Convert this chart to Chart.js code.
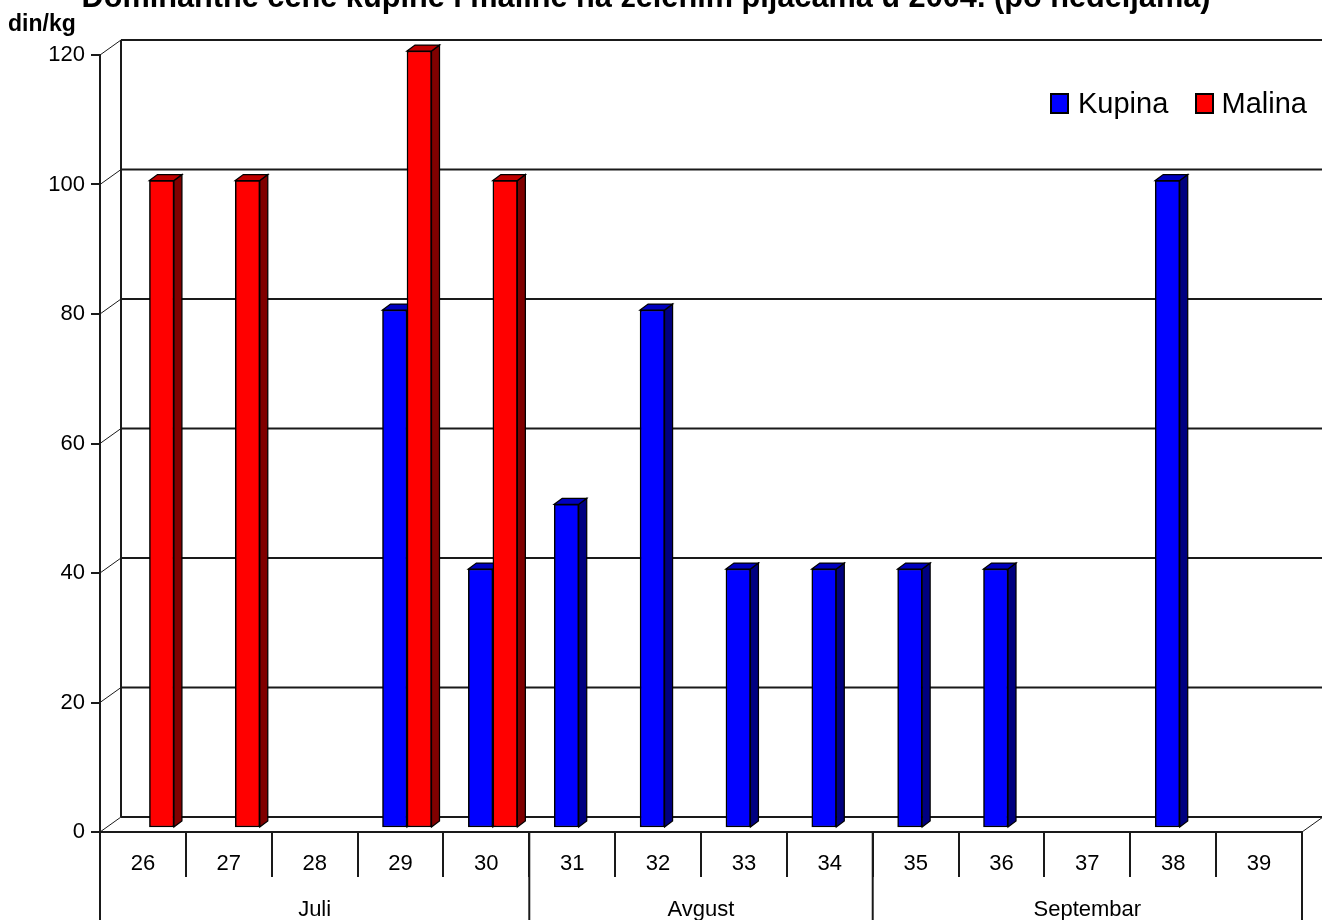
<!DOCTYPE html>
<html>
<head>
<meta charset="utf-8">
<title>Kupina i malina</title>
<script src="https://cdn.jsdelivr.net/npm/chart.js@4/dist/chart.umd.min.js"></script>
<style>
	html, body { margin: 0; padding: 0; background: #fff; overflow: hidden; }
	canvas { display: block; }
</style>
</head>
<body>
<canvas id="chart" width="1322" height="920"></canvas>
<script>
var titleText = 'Dominantne cene kupine i maline na zelenim pijacama u 2004. (po nedeljama)';
var unitText = 'din/kg';
var weeks = ['26', '27', '28', '29', '30', '31', '32', '33', '34', '35', '36', '37', '38', '39'];
var kupina = [null, null, null, 80, 40, 50, 80, 40, 40, 40, 40, null, 100, null];
var malina = [100, 100, null, 120, 100, null, null, null, null, null, null, null, null, null];
var months = ['Juli', 'Avgust', 'Septembar'];
var monthWeeks = [5, 4, 5];

var FONT = '"Liberation Sans", Arial, sans-serif';
var LINE = '#1a1a1a';
// depth of the back wall and of the bars, in px
var WALL_X = 21, WALL_Y = 15;
var BAR_WIDTH = 24.5, BAR_DX = 8, BAR_DY = 6;
// bars sit a bit to the right of and above the front plane
var BAR_SHIFT_Y = 4;
var shiftX = { Kupina: 6.5 - BAR_WIDTH / 2, Malina: 6.5 + BAR_WIDTH / 2 };

var sideColors = { Kupina: '#000080', Malina: '#800000' };
var topColors = { Kupina: '#0000c0', Malina: '#c00000' };

function seg(ctx, x1, y1, x2, y2) {
	ctx.beginPath();
	ctx.moveTo(x1, y1);
	ctx.lineTo(x2, y2);
	ctx.stroke();
}

function poly(ctx, pts, fill) {
	ctx.beginPath();
	ctx.moveTo(pts[0][0], pts[0][1]);
	for (var i = 1; i < pts.length; i++) ctx.lineTo(pts[i][0], pts[i][1]);
	ctx.closePath();
	ctx.fillStyle = fill;
	ctx.fill();
	ctx.stroke();
}

var wallPlugin = {
	id: 'wall',
	beforeDatasetsDraw: function(chart) {
		var ctx = chart.ctx, a = chart.chartArea, y = chart.scales.y;
		ctx.save();
		ctx.strokeStyle = LINE;
		ctx.lineWidth = 2;
		seg(ctx, a.left + WALL_X, a.top - WALL_Y, a.left + WALL_X, a.bottom - WALL_Y);
		y.ticks.forEach(function(t) {
			var py = y.getPixelForValue(t.value);
			seg(ctx, a.left + WALL_X, py - WALL_Y, a.right + WALL_X, py - WALL_Y);
		});
		ctx.lineWidth = 1;
		y.ticks.forEach(function(t) {
			var py = y.getPixelForValue(t.value);
			seg(ctx, a.left, py, a.left + WALL_X, py - WALL_Y);
		});
		seg(ctx, a.right, a.bottom, a.right + WALL_X, a.bottom - WALL_Y);
		ctx.restore();
	}
};

var bar3dPlugin = {
	id: 'bar3d',
	beforeDatasetDraw: function(chart, args) {
		var ctx = chart.ctx, ds = chart.data.datasets[args.index], name = ds.label;
		ctx.save();
		ctx.translate(shiftX[name], -BAR_SHIFT_Y);
		ctx.strokeStyle = '#000';
		ctx.lineWidth = 1.25;
		args.meta.data.forEach(function(bar, i) {
			if (ds.data[i] === null) return;
			var l = bar.x - bar.width / 2, r = bar.x + bar.width / 2;
			poly(ctx, [[r, bar.y], [r + BAR_DX, bar.y - BAR_DY], [r + BAR_DX, bar.base - BAR_DY], [r, bar.base]], sideColors[name]);
			poly(ctx, [[l, bar.y], [l + BAR_DX, bar.y - BAR_DY], [r + BAR_DX, bar.y - BAR_DY], [r, bar.y]], topColors[name]);
		});
	},
	afterDatasetDraw: function(chart) {
		chart.ctx.restore();
	}
};

var labelsPlugin = {
	id: 'labels',
	afterDraw: function(chart) {
		var ctx = chart.ctx, a = chart.chartArea, x = chart.scales.x;
		var step = (a.right - a.left) / weeks.length;
		ctx.save();
		ctx.fillStyle = '#000';
		ctx.textBaseline = 'alphabetic';

		ctx.textAlign = 'center';
		ctx.font = 'bold 30.7px ' + FONT;
		ctx.fillText(titleText, 646, 7);
		ctx.textAlign = 'left';
		ctx.font = 'bold 23px ' + FONT;
		ctx.fillText(unitText, 8, 31);

		// month row below the week labels
		ctx.strokeStyle = LINE;
		ctx.lineWidth = 2;
		ctx.textAlign = 'center';
		ctx.font = '22px ' + FONT;
		seg(ctx, a.left, a.bottom, a.left, 920);
		var start = 0;
		months.forEach(function(m, i) {
			var left = x.getPixelForValue(start) - step / 2;
			var right = x.getPixelForValue(start + monthWeeks[i] - 1) + step / 2;
			seg(ctx, right, a.bottom, right, 920);
			ctx.fillText(m, (left + right) / 2, 916);
			start += monthWeeks[i];
		});

		// legend
		var items = chart.data.datasets;
		var boxX = [1051, 1196], textX = [1078, 1221.5];
		ctx.textAlign = 'left';
		ctx.textBaseline = 'middle';
		ctx.font = '29px ' + FONT;
		items.forEach(function(ds, i) {
			ctx.fillStyle = ds.backgroundColor;
			ctx.strokeStyle = '#000';
			ctx.fillRect(boxX[i], 94, 17, 19);
			ctx.strokeRect(boxX[i], 94, 17, 19);
			ctx.fillStyle = '#000';
			ctx.fillText(ds.label, textX[i], 105);
		});
		ctx.restore();
	}
};

var chart = new Chart(document.getElementById('chart').getContext('2d'), {
	type: 'bar',
	data: {
		labels: weeks,
		datasets: [
			{ label: 'Kupina', data: kupina, backgroundColor: '#0000ff', borderColor: '#000', borderWidth: 1.5, borderSkipped: false, barThickness: BAR_WIDTH, grouped: false, order: 2 },
			{ label: 'Malina', data: malina, backgroundColor: '#ff0000', borderColor: '#000', borderWidth: 1.5, borderSkipped: false, barThickness: BAR_WIDTH, grouped: false, order: 1 }
		]
	},
	options: {
		responsive: false,
		animation: false,
		clip: false,
		layout: { padding: { top: 55, right: 20, left: 0, bottom: 0 } },
		plugins: {
			legend: { display: false },
			title: { display: false },
			tooltip: { enabled: false }
		},
		scales: {
			x: {
				offset: true,
				afterFit: function(s) { s.height = 88; },
				border: { color: LINE, width: 2 },
				grid: { offset: true, drawOnChartArea: false, color: LINE, lineWidth: 2, tickLength: 45 },
				ticks: { color: '#000', font: { family: FONT, size: 22 }, maxRotation: 0, autoSkip: false, padding: -26 }
			},
			y: {
				min: 0,
				max: 120,
				afterFit: function(s) { s.width = 100; },
				border: { color: LINE, width: 2 },
				grid: { drawOnChartArea: false, color: LINE, lineWidth: 2, tickLength: 9 },
				ticks: { stepSize: 20, color: '#000', font: { family: FONT, size: 22 }, padding: 6 }
			}
		}
	},
	plugins: [wallPlugin, bar3dPlugin, labelsPlugin]
});
</script>
</body>
</html>
